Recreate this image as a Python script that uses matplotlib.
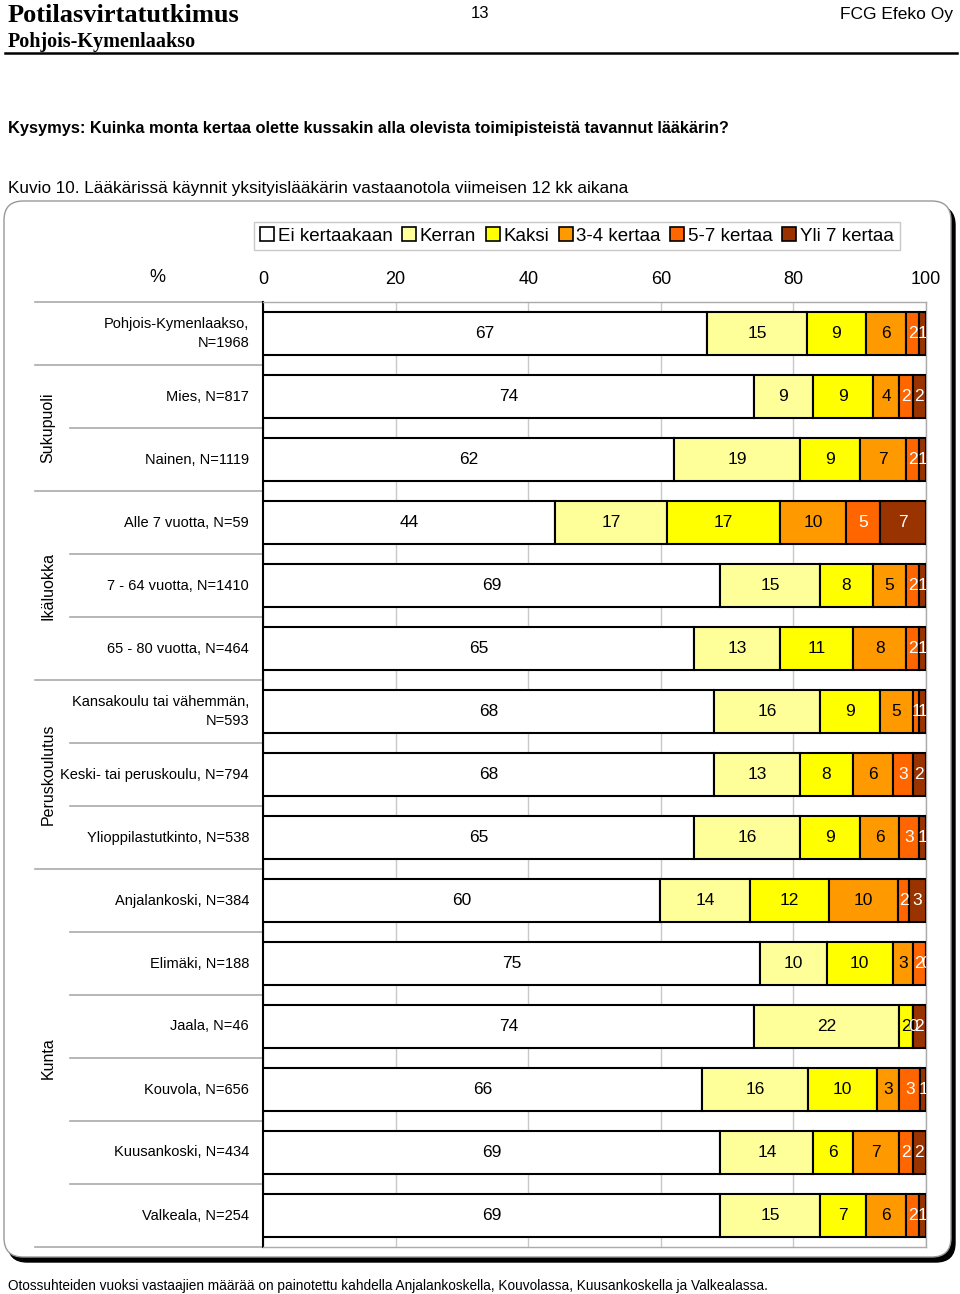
import matplotlib
matplotlib.use("Agg")
import matplotlib.pyplot as plt
from matplotlib.patches import FancyBboxPatch, Patch
import matplotlib.transforms as mtransforms

plt.rcParams["font.family"] = ["Liberation Sans", "DejaVu Sans"]

series = ["Ei kertaakaan", "Kerran", "Kaksi", "3-4 kertaa", "5-7 kertaa", "Yli 7 kertaa"]
colors = ["#FFFFFF", "#FFFF99", "#FFFF00", "#FF9900", "#FF6600", "#993300"]
text_colors = ["black", "black", "black", "black", "white", "white"]

categories = ["Pohjois-Kymenlaakso,\nN=1968", "Mies, N=817", "Nainen, N=1119",
              "Alle 7 vuotta, N=59", "7 - 64 vuotta, N=1410", "65 - 80 vuotta, N=464",
              "Kansakoulu tai vähemmän,\nN=593", "Keski- tai peruskoulu, N=794",
              "Ylioppilastutkinto, N=538", "Anjalankoski, N=384", "Elimäki, N=188",
              "Jaala, N=46", "Kouvola, N=656", "Kuusankoski, N=434", "Valkeala, N=254"]

# shares in % (labels are the rounded values)
ei = [67, 74, 62, 44, 69, 65, 68, 68, 65, 59.9, 75, 74, 66.2, 69, 69]
kerran = [15, 9, 19, 17, 15, 13, 16, 13, 16, 13.6, 10, 22, 16, 14, 15]
kaksi = [9, 9, 9, 17, 8, 11, 9, 8, 9, 11.9, 10, 2, 10.4, 6, 7]
k34 = [6, 4, 7, 10, 5, 8, 5, 6, 6, 10.4, 3, 0, 3.4, 7, 6]
k57 = [2, 2, 2, 5, 2, 2, 1, 3, 3, 1.6, 2, 0, 3.1, 2, 2]
yli7 = [1, 2, 1, 7, 1, 1, 1, 2, 1, 2.6, 0, 2, 0.9, 2, 1]

groups = [("Sukupuoli", 1, 2), ("Ikäluokka", 3, 5), ("Peruskoulutus", 6, 8), ("Kunta", 9, 14)]
group_ends = [0, 2, 5, 8]

W, H = 960, 1294
fig = plt.figure(figsize=(W / 100, H / 100), dpi=100)

def fx(x):
    return x / W

def fy(y):
    return 1 - y / H

# rounded frame with shadow
shadow = FancyBboxPatch((fx(8), fy(1262)), fx(947), (1262 - 206) / H,
                        boxstyle="round,pad=0,rounding_size=0.02", transform=fig.transFigure,
                        facecolor="black", edgecolor="black", zorder=0, mutation_aspect=W / H)
frame = FancyBboxPatch((fx(4), fy(1257)), fx(947), (1257 - 201) / H,
                       boxstyle="round,pad=0,rounding_size=0.02", transform=fig.transFigure,
                       facecolor="white", edgecolor="#999999", lw=1, zorder=0.5, mutation_aspect=W / H)
fig.patches.extend([shadow, frame])

ax = fig.add_axes([fx(263), fy(1247), fx(926 - 263), (1247 - 302) / H])
ax.set_zorder(2)
ax.patch.set_alpha(0)

data = [ei, kerran, kaksi, k34, k57, yli7]
ypos = list(range(len(categories)))
left = [0] * len(categories)
for vals, col, tcol in zip(data, colors, text_colors):
    ax.barh(ypos, vals, left=left, height=0.667, color=col, edgecolor="black", lw=1.5, zorder=3)
    for i, v in enumerate(vals):
        ax.text(left[i] + v / 2, i, f"{v:.0f}", ha="center", va="center", fontsize=12.5,
                color=tcol, zorder=4, clip_on=True)
    left = [a + b for a, b in zip(left, vals)]

ax.set_xlim(0, 100)
ax.set_ylim(14.5, -0.5)
ax.set_xticks([0, 20, 40, 60, 80, 100])
ax.xaxis.tick_top()
ax.tick_params(axis="x", length=0, pad=10, labelsize=13)
ax.set_yticks([])
ax.grid(axis="x", color="#C8C8C8", lw=1, zorder=0)
for s in ["right", "bottom", "top"]:
    ax.spines[s].set_color("#AAAAAA")
    ax.spines[s].set_linewidth(1)
ax.spines["left"].set_color("black")
ax.spines["left"].set_linewidth(1.5)

fig.text(fx(157), fy(277), "%", ha="center", va="center", fontsize=13)

# left side labels and separators
tr = mtransforms.blended_transform_factory(fig.transFigure, ax.transData)
for i, c in enumerate(categories):
    ax.text(fx(249), i, c, transform=tr, ha="right", va="center", fontsize=10.5,
            linespacing=1.45)
full_lines = [-0.5, 14.5] + [e + 0.5 for e in group_ends]
for b in range(-1, 15):
    y = b + 0.5
    x0 = fx(35) if y in full_lines else fx(70)
    ax.plot([x0, fx(263)], [y, y], transform=tr, color="#AAAAAA", lw=1.2, clip_on=False)
for name, a, b in groups:
    ax.text(fx(48), (a + b) / 2, name, transform=tr, rotation=90, ha="center", va="center",
            fontsize=11.5)

handles = [Patch(facecolor=c, edgecolor="black", lw=1.2) for c in colors]
leg = fig.legend(handles, series, loc="center", bbox_to_anchor=(fx(577), fy(236)), ncol=6,
                 fontsize=13.5, frameon=True, fancybox=False, handlelength=0.75, handleheight=0.75,
                 handletextpad=0.2, columnspacing=0.5, borderpad=0.3, edgecolor="#BBBBBB")
leg.get_frame().set_linewidth(1)

# header
fig.text(fx(8), fy(16), "Potilasvirtatutkimus", ha="left", va="center", fontsize=19,
         family="Liberation Serif", weight="bold")
fig.text(fx(480), fy(14), "13", ha="center", va="center", fontsize=12)
fig.text(fx(953), fy(14), "FCG Efeko Oy", ha="right", va="center", fontsize=12.5)
fig.text(fx(8), fy(42), "Pohjois-Kymenlaakso", ha="left", va="center", fontsize=14.5,
         family="Liberation Serif", weight="bold")
fig.add_artist(plt.Line2D([fx(5), fx(957)], [fy(53), fy(53)], color="black", lw=1.8))

fig.text(fx(8), fy(129), "Kysymys: Kuinka monta kertaa olette kussakin alla olevista toimipisteistä tavannut lääkärin?",
         ha="left", va="center", fontsize=11.8, weight="bold")
fig.text(fx(8), fy(188), "Kuvio 10. Lääkärissä käynnit yksityislääkärin vastaanotola viimeisen 12 kk aikana",
         ha="left", va="center", fontsize=12.3)
fig.text(fx(8), fy(1286), "Otossuhteiden vuoksi vastaajien määrää on painotettu kahdella Anjalankoskella, Kouvolassa, Kuusankoskella ja Valkealassa.",
         ha="left", va="center", fontsize=9.8)

fig.savefig("out.png", dpi=100)
